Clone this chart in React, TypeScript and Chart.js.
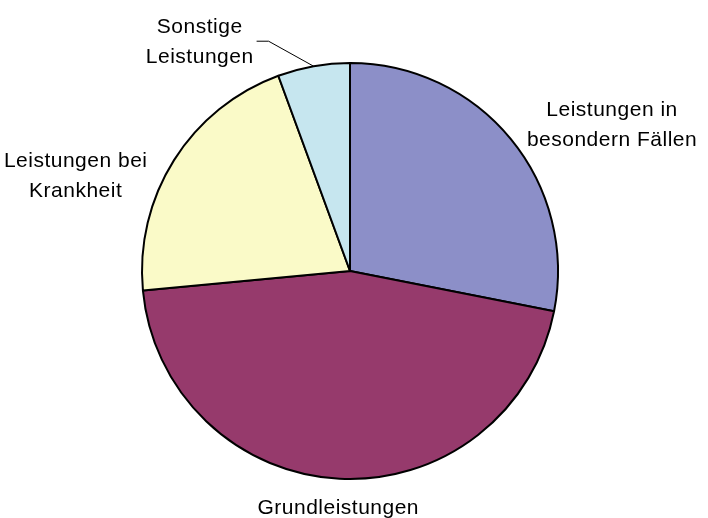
import React, { useEffect, useRef } from "react";
import { Chart, registerables } from "chart.js";

Chart.register(...registerables);

const categories = [
  "Leistungen in besondern Fällen",
  "Grundleistungen",
  "Leistungen bei Krankheit",
  "Sonstige Leistungen",
];
const labelLines = [
  ["Leistungen in", "besondern Fällen"],
  ["Grundleistungen"],
  ["Leistungen bei", "Krankheit"],
  ["Sonstige", "Leistungen"],
];
const shares = [28.1, 45.4, 20.9, 5.6];
const sliceColors = ["#8C8FC8", "#963A6C", "#FAFAC8", "#C6E6EF"];

// label placement relative to each slice (gap from rim, nudges, which block edge sits at the anchor)
const labelLayout: any[] = [
  { gap: 21, dx: 0, dy: 0, side: "left" },
  { gap: 26, dx: 0, dy: 3, side: "center" },
  { gap: 16, dx: -13, dy: 25, side: "right" },
  { gap: 0, dx: 0, dy: 0, side: "right", leader: [-45, -25] },
];

const labelPlugin = {
  id: "sliceLabels",
  afterDatasetsDraw(chart: any) {
    const ctx = chart.ctx;
    const meta = chart.getDatasetMeta(0);
    ctx.save();
    ctx.font = '21px "Liberation Sans", Arial, sans-serif';
    try { (ctx as any).letterSpacing = "0.5px"; } catch (e) {}
    ctx.fillStyle = "#000";
    ctx.strokeStyle = "#000";
    ctx.lineWidth = 1;
    ctx.textBaseline = "middle";
    ctx.textAlign = "center";
    const lh = 30;
    meta.data.forEach((arc: any, i: number) => {
      const p = arc.getProps(["x", "y", "startAngle", "endAngle", "outerRadius"], true);
      const mid = (p.startAngle + p.endAngle) / 2;
      const cfg = labelLayout[i];
      let ax = p.x + Math.cos(mid) * (p.outerRadius + cfg.gap) + cfg.dx;
      let ay = p.y + Math.sin(mid) * (p.outerRadius + cfg.gap) + cfg.dy;
      if (cfg.leader) {
        const px = p.x + Math.cos(mid) * p.outerRadius;
        const py = p.y + Math.sin(mid) * p.outerRadius;
        const ex = px + cfg.leader[0];
        const ey = py + cfg.leader[1];
        ctx.beginPath();
        ctx.moveTo(px, py);
        ctx.lineTo(ex, ey);
        ctx.lineTo(ex - 12, ey);
        ctx.stroke();
        ax = ex - 15;
        ay = ey + 1;
      }
      const lines = labelLines[i];
      const w = Math.max(...lines.map((l) => ctx.measureText(l).width));
      let cx = ax;
      if (cfg.side === "left") cx = ax + w / 2;
      else if (cfg.side === "right") cx = ax - w / 2;
      lines.forEach((l, k) => {
        ctx.fillText(l, cx, ay + (k - (lines.length - 1) / 2) * lh);
      });
    });
    ctx.restore();
  },
};

export default function App() {
  const ref = useRef<HTMLCanvasElement | null>(null);
  useEffect(() => {
    document.body.style.margin = "0";
    const chart = new Chart(ref.current as HTMLCanvasElement, {
      type: "pie",
      data: {
        labels: categories,
        datasets: [
          {
            data: shares,
            backgroundColor: sliceColors,
            borderColor: "#000",
            borderWidth: 2,
            radius: 208,
          } as any,
        ],
      },
      options: {
        animation: false,
        responsive: false,
        layout: { padding: { left: 0, right: 8, top: 24, bottom: 0 } },
        plugins: {
          legend: { display: false },
          tooltip: { enabled: false },
          title: { display: false },
        },
      },
      plugins: [labelPlugin],
    });
    return () => chart.destroy();
  }, []);
  return (
    <div style={{ width: 708, height: 518, background: "#fff" }}>
      <canvas ref={ref} width={708} height={518} style={{ display: "block" }} />
    </div>
  );
}
